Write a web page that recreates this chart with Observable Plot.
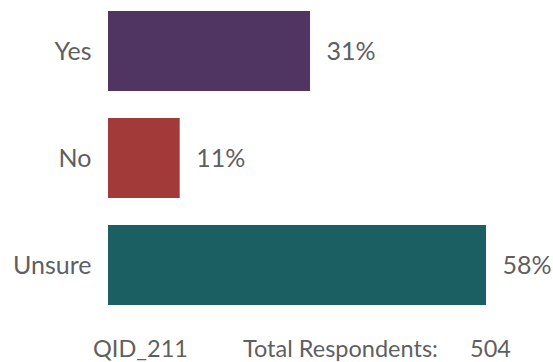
<!DOCTYPE html>
<html>
<head>
<meta charset="utf-8">
<script src="https://cdn.jsdelivr.net/npm/d3@7"></script>
<script src="https://cdn.jsdelivr.net/npm/@observablehq/plot@0.6"></script>
<style>
  html, body { margin: 0; padding: 0; background: #fff; }
  #wrap { position: relative; width: 553px; height: 362px; font-family: Lato, "Open Sans", sans-serif; color: #5f5f5f; }
  #footer { position: absolute; top: 334px; left: 0; width: 553px; height: 28px; font-size: 23.5px; line-height: 28px; }
  #footer span { position: absolute; top: 0; white-space: pre; }
</style>
</head>
<body>
<div id="wrap">
  <div id="chart"></div>
  <div id="footer"><span id="qid"></span><span id="tot"></span><span id="n"></span></div>
</div>
<script>
const categories = ["Yes", "No", "Unsure"];
const values = [31, 11, 58];
const colors = ["#503462", "#A33A3A", "#1B5F63"];
const questionId = "QID_211";
const totalLabel = "Total Respondents:";
const totalRespondents = 504;

const data = categories.map((c, i) => ({category: c, value: values[i], color: colors[i]}));

const chart = Plot.plot({
  width: 553,
  height: 320,
  marginTop: 10,
  marginBottom: 14,
  marginLeft: 108,
  marginRight: 67,
  style: {fontFamily: "Lato, 'Open Sans', sans-serif", fontSize: "25px", color: "#5f5f5f", background: "#fff"},
  x: {domain: [0, d3.max(values)], axis: null},
  y: {domain: categories, paddingInner: 0.25, paddingOuter: 0, label: null},
  marks: [
    Plot.barX(data, {x: "value", y: "category", fill: "color"}),
    Plot.text(data, {x: "value", y: "category", text: d => d.value + "%", dx: 16, textAnchor: "start", fill: "#5f5f5f", fontSize: 25}),
    Plot.axisY({tickSize: 0, tickPadding: 17, label: null, fill: "#5f5f5f", fontSize: 25})
  ]
});
document.getElementById("chart").appendChild(chart);
const q = document.getElementById("qid"); q.textContent = questionId; q.style.left = "93px";
const t = document.getElementById("tot"); t.textContent = totalLabel; t.style.left = "243px";
const n = document.getElementById("n"); n.textContent = String(totalRespondents); n.style.left = "470px";
</script>
</body>
</html>
